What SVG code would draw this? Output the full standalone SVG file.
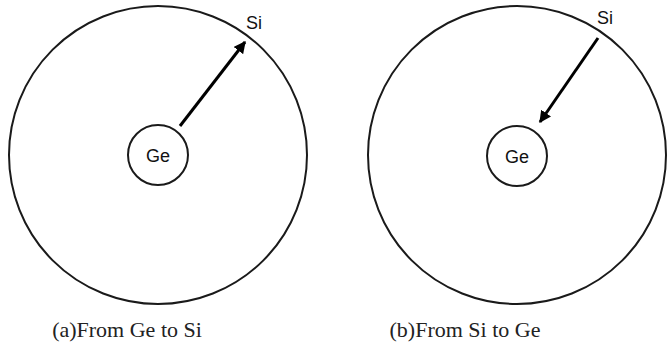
<svg xmlns="http://www.w3.org/2000/svg" width="670" height="346" viewBox="0 0 670 346">
<style>
.c{fill:none;stroke:#1a1a1a;stroke-width:2}
.a{stroke:#000;stroke-width:3;fill:none}
.l{font-family:"Liberation Sans",Arial,sans-serif;font-size:18px;fill:#111}
.cap{font-family:"Liberation Serif","Times New Roman",serif;font-size:22px;fill:#222}
</style>
<defs>
<marker id="ah" viewBox="0 0 10 10" refX="9" refY="5" markerWidth="4" markerHeight="4" orient="auto" markerUnits="strokeWidth">
<path d="M0,0 L10,5 L0,10 z" fill="#000"/>
</marker>
</defs>
<g id="panelA">
<g id="siA"><circle class="c" cx="158" cy="155" r="149"/><text class="l" x="246" y="29">Si</text></g>
<g id="geA"><circle class="c" cx="158" cy="155" r="30"/><text class="l" x="158" y="162" text-anchor="middle">Ge</text></g>
<text class="cap" x="127" y="337" text-anchor="middle">(a)From Ge to Si</text>
</g>
<g id="panelB">
<g id="siB"><circle class="c" cx="517" cy="155" r="149"/><text class="l" x="597" y="24">Si</text></g>
<g id="geB"><circle class="c" cx="517" cy="156" r="30"/><text class="l" x="517" y="163" text-anchor="middle">Ge</text></g>
<text class="cap" x="465" y="337" text-anchor="middle">(b)From Si to Ge</text>
</g>
<g id="connectors">
<line class="a" x1="180" y1="126" x2="245" y2="42" marker-end="url(#ah)"/>
<line class="a" x1="598" y1="38" x2="540" y2="122" marker-end="url(#ah)"/>
</g>
</svg>
